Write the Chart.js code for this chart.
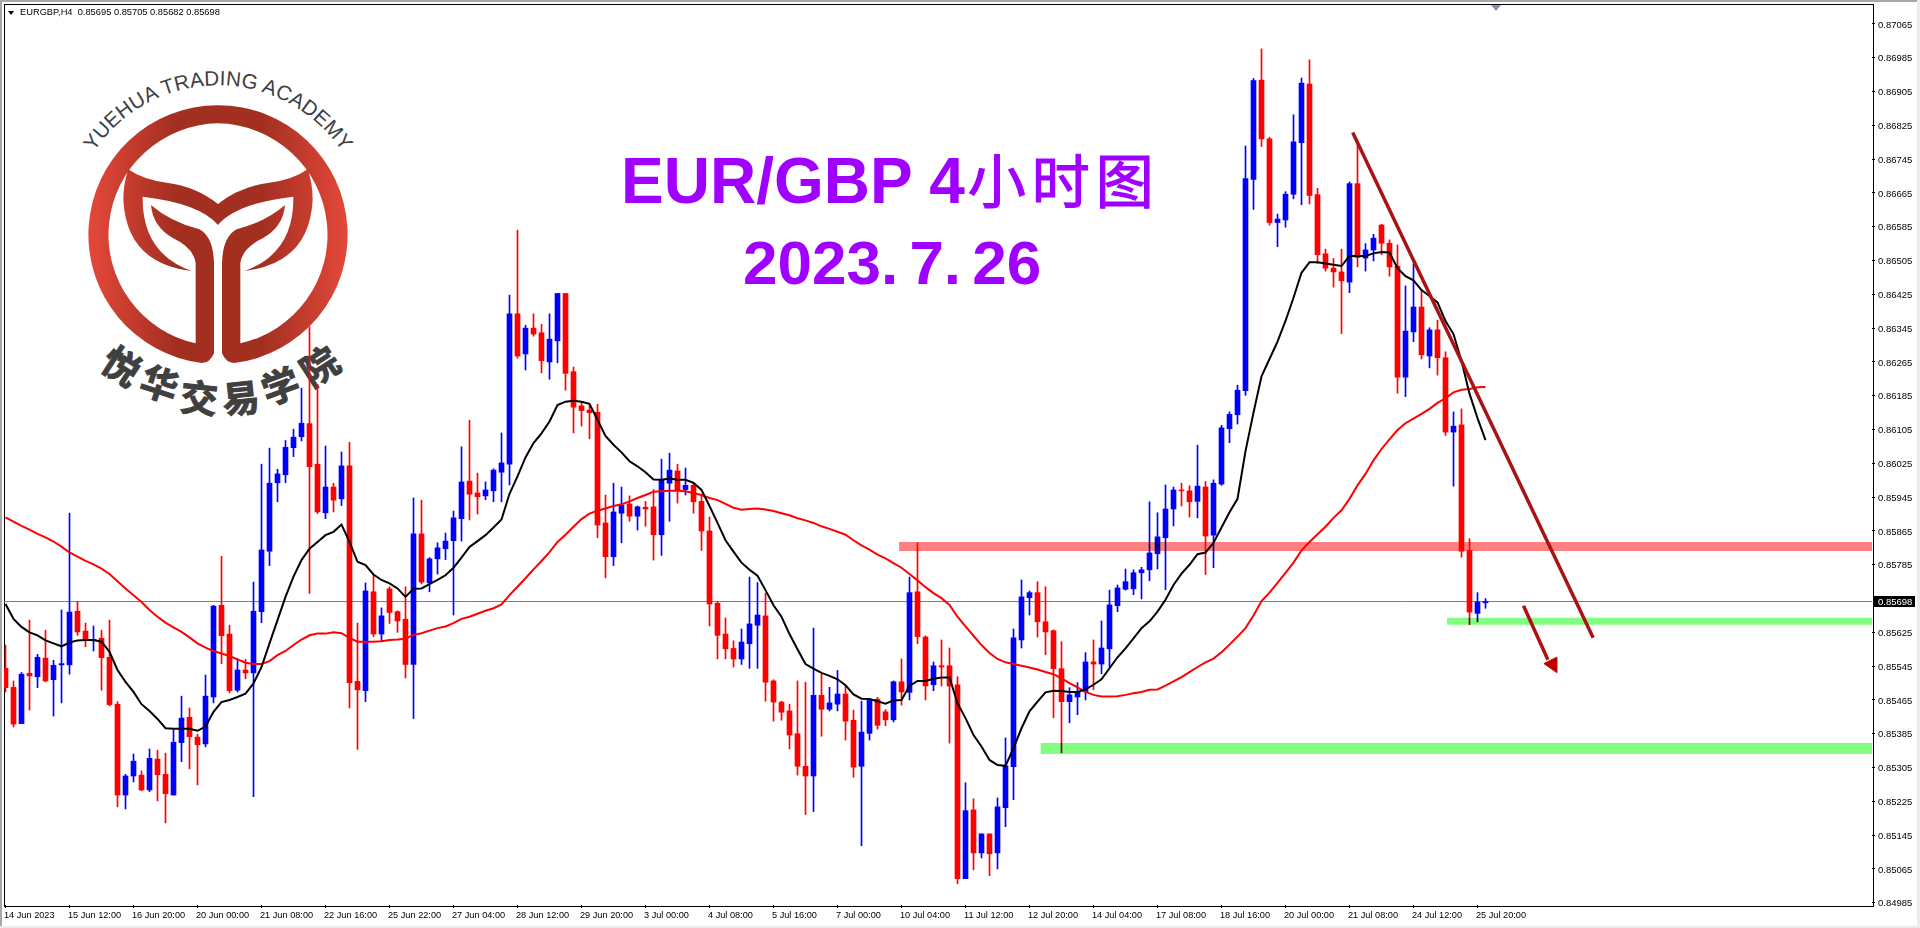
<!DOCTYPE html>
<html>
<head>
<meta charset="utf-8">
<title>EURGBP H4</title>
<script src="https://cdn.jsdelivr.net/npm/chart.js@4.4.4/dist/chart.umd.min.js"></script>
<style>
  html, body { margin: 0; padding: 0; background: #fff; overflow: hidden; }
  #wrap { position: relative; width: 1920px; height: 928px; overflow: hidden; font-family: "Liberation Sans", sans-serif; }
  #wrap > * { position: absolute; }
  canvas { left: 0; top: 0; z-index: 3; }
  .edge { z-index: 4; }
  #frame { left: 4px; top: 4px; width: 1868px; height: 901px; border: 1px solid #000; box-sizing: content-box; }
  #head { left: 20px; top: 6px; font-size: 9.3px; line-height: 12px; color: #000; white-space: pre; z-index: 4; }
  #drop { left: 8px; top: 11px; width: 0; height: 0; border-left: 3.5px solid transparent; border-right: 3.5px solid transparent; border-top: 4px solid #000; z-index: 4; }
  #shift { left: 1491px; top: 5px; width: 0; height: 0; border-left: 5px solid transparent; border-right: 5px solid transparent; border-top: 6px solid #8496a8; z-index: 4; }
  .title { color: #a000ff; font-weight: 700; white-space: pre; z-index: 2; }
  #t1 { left: 621px; top: 140px; font-size: 64px; line-height: 76px; }
  #t1 span { font-family: "Noto Sans CJK SC"; font-weight: 400; font-size: 58px; letter-spacing: 6px; margin-left: 3px; -webkit-text-stroke: 1.2px #a000ff; }
  #t2 { left: 743px; top: 225px; font-size: 62px; line-height: 76px; word-spacing: -6px; }
  #logo { left: 0; top: 0; z-index: 1; }
</style>
</head>
<body>
<div id="wrap">
  <div class="edge" style="left:0;top:0;width:1920px;height:2px;background:#a8a8a8"></div>
  <div class="edge" style="left:0;top:0;width:2px;height:928px;background:#a8a8a8"></div>
  <div class="edge" style="left:1917px;top:0;width:3px;height:928px;background:#ececec"></div>
  <div class="edge" style="left:0;top:926px;width:1920px;height:2px;background:#ececec"></div>
  <div id="frame"></div>
  <svg id="logo" width="400" height="440" viewBox="0 0 1200 1320">
    <defs>
      <linearGradient id="rg" gradientUnits="userSpaceOnUse" x1="266" y1="0" x2="1042" y2="0">
        <stop offset="0" stop-color="#e4483a"/>
        <stop offset="0.33" stop-color="#a32f21"/>
        <stop offset="0.67" stop-color="#a32f21"/>
        <stop offset="1" stop-color="#e4483a"/>
      </linearGradient>
      <path id="half" d="M654,316 A388,388 0 0 0 605,1089 Q630,1089 642,1060 L642,790 Q640,710 598,688 Q510,665 453,615 Q458,680 520,715 Q582,745 587,790 L587,1030 A334,334 0 0 1 654,370 Z"/>
      <path id="wing" d="M385,508 Q430,540 500,548 Q590,560 654,612 L654,675 Q600,610 428,590 Q425,760 575,813 Q380,790 370,600 Q370,550 385,508 Z"/>
      <path id="arc" d="M206,704 A448,448 0 0 1 1102,704"/>
    </defs>
    <g fill="url(#rg)">
      <use href="#half"/>
      <use href="#wing"/>
      <use href="#half" transform="matrix(-1 0 0 1 1308 0)"/>
      <use href="#wing" transform="matrix(-1 0 0 1 1308 0)"/>
    </g>
    <text font-family="Liberation Sans" font-size="62" fill="#404040">
      <textPath href="#arc" startOffset="50%" text-anchor="middle" textLength="880" lengthAdjust="spacing">YUEHUA TRADING ACADEMY</textPath>
    </text>
    <g font-family="Noto Sans CJK SC" font-weight="700" font-size="112" fill="#404040" stroke="#404040" stroke-width="3" text-anchor="middle">
      <text transform="translate(342,1134) rotate(33)">悦</text>
      <text transform="translate(466,1192) rotate(18)">华</text>
      <text transform="translate(593,1236) rotate(6)">交</text>
      <text transform="translate(727,1236) rotate(-6)">易</text>
      <text transform="translate(856,1198) rotate(-20)">学</text>
      <text transform="translate(982,1134) rotate(-33)">院</text>
    </g>
  </svg>
  <div class="title" id="t1">EUR/GBP 4<span>小时图</span></div>
  <div class="title" id="t2">2023. 7. 26</div>
  <div id="drop"></div>
  <div id="head">EURGBP,H4  0.85695 0.85705 0.85682 0.85698</div>
  <div id="shift"></div>
  <canvas id="c" width="1920" height="928" style="width:1920px;height:928px"></canvas>
</div>
<script>
const opens = [
  0.85540,0.85495,0.85409,0.85528,0.85520,0.85564,0.85513,0.85548,0.85548,0.85675,
  0.85628,0.85605,0.85611,0.85566,0.85455,0.85240,0.85285,0.85287,0.85252,0.85325,
  0.85289,0.85240,0.85364,0.85424,0.85377,0.85361,0.85472,0.85689,0.85621,0.85488,
  0.85536,0.85529,0.85674,0.85817,0.85979,0.85998,0.86062,0.86088,0.86119,0.86023,
  0.85908,0.85969,0.85941,0.86019,0.85509,0.85487,0.85721,0.85621,0.85728,0.85674,
  0.85656,0.85549,0.85858,0.85742,0.85799,0.85823,0.85842,0.85894,0.85983,0.85955,
  0.85948,0.85960,0.86004,0.86023,0.86379,0.86284,0.86345,0.86334,0.86265,0.86315,
  0.86427,0.86242,0.86161,0.86151,0.86146,0.85884,0.85804,0.85907,0.85929,0.85900,
  0.85921,0.85922,0.85856,0.85978,0.86007,0.85963,0.85973,0.85935,0.85865,0.85694,
  0.85621,0.85587,0.85562,0.85598,0.85642,0.85664,0.85510,0.85460,0.85439,0.85385,
  0.85308,0.85285,0.85476,0.85443,0.85455,0.85479,0.85417,0.85308,0.85386,0.85467,
  0.85437,0.85418,0.85508,0.85483,0.85721,0.85614,0.85501,0.85546,0.85546,0.85501,
  0.85042,0.85205,0.85103,0.85148,0.85103,0.85210,0.85307,0.85607,0.85707,0.85719,
  0.85650,0.85629,0.85539,0.85461,0.85472,0.85484,0.85555,0.85550,0.85586,0.85688,
  0.85727,0.85728,0.85766,0.85773,0.85811,0.85849,0.85917,0.85962,0.85960,0.85935,
  0.85969,0.85855,0.85976,0.86107,0.86140,0.86197,0.86697,0.86932,0.86793,0.86595,
  0.86601,0.86662,0.86784,0.86923,0.86661,0.86521,0.86487,0.86478,0.86454,0.86687,
  0.86511,0.86530,0.86589,0.86546,0.86492,0.86229,0.86336,0.86395,0.86279,0.86341,
  0.86275,0.86099,0.86116,0.85819,0.85670,0.85695
];
const highs = [
  0.85595,0.85510,0.85530,0.85654,0.85573,0.85630,0.85559,0.85678,0.85907,0.85698,
  0.85647,0.85640,0.85630,0.85654,0.85461,0.85289,0.85337,0.85297,0.85349,0.85346,
  0.85339,0.85394,0.85474,0.85446,0.85384,0.85524,0.85689,0.85805,0.85642,0.85563,
  0.85561,0.85744,0.86023,0.86061,0.86011,0.86079,0.86106,0.86203,0.86348,0.86212,
  0.86066,0.85978,0.86052,0.86075,0.85647,0.85742,0.85762,0.85683,0.85733,0.85676,
  0.85733,0.85943,0.85938,0.85802,0.85837,0.85860,0.85912,0.86064,0.86127,0.86002,
  0.85981,0.86012,0.86097,0.86423,0.86577,0.86352,0.86379,0.86354,0.86379,0.86427,
  0.86427,0.86253,0.86169,0.86165,0.86165,0.85950,0.85978,0.85969,0.85948,0.85924,
  0.85935,0.85963,0.86035,0.86049,0.86023,0.86014,0.85979,0.85952,0.85898,0.85698,
  0.85659,0.85605,0.85633,0.85756,0.85743,0.85718,0.85513,0.85462,0.85455,0.85510,
  0.85507,0.85635,0.85526,0.85495,0.85535,0.85499,0.85441,0.85462,0.85467,0.85471,
  0.85442,0.85510,0.85562,0.85756,0.85837,0.85617,0.85555,0.85607,0.85588,0.85520,
  0.85269,0.85231,0.85148,0.85148,0.85233,0.85375,0.85633,0.85749,0.85723,0.85745,
  0.85733,0.85631,0.85603,0.85494,0.85506,0.85577,0.85607,0.85652,0.85725,0.85737,
  0.85775,0.85773,0.85779,0.85934,0.85908,0.85974,0.85969,0.85978,0.85972,0.86068,
  0.85982,0.85986,0.86115,0.86147,0.86210,0.86776,0.86936,0.87006,0.86797,0.86615,
  0.86668,0.86850,0.86937,0.86980,0.86676,0.86532,0.86510,0.86532,0.86691,0.86784,
  0.86545,0.86567,0.86591,0.86554,0.86542,0.86445,0.86498,0.86435,0.86346,0.86364,
  0.86289,0.86147,0.86154,0.85847,0.85719,0.85705
];
const lows = [
  0.85484,0.85401,0.85409,0.85441,0.85494,0.85508,0.85427,0.85458,0.85526,0.85618,
  0.85591,0.85581,0.85488,0.85451,0.85212,0.85207,0.85271,0.85250,0.85248,0.85226,
  0.85174,0.85240,0.85319,0.85302,0.85264,0.85354,0.85458,0.85551,0.85482,0.85484,
  0.85515,0.85236,0.85648,0.85783,0.85934,0.85979,0.86041,0.86078,0.85717,0.85906,
  0.85894,0.85910,0.85925,0.85446,0.85348,0.85461,0.85615,0.85605,0.85646,0.85625,
  0.85517,0.85421,0.85740,0.85721,0.85763,0.85797,0.85666,0.85841,0.85891,0.85905,
  0.85939,0.85934,0.85934,0.85974,0.86274,0.86246,0.86326,0.86239,0.86224,0.86263,
  0.86198,0.86097,0.86113,0.86083,0.85849,0.85754,0.85783,0.85837,0.85888,0.85867,
  0.85876,0.85796,0.85807,0.85888,0.85931,0.85950,0.85907,0.85819,0.85640,0.85562,
  0.85562,0.85543,0.85549,0.85540,0.85540,0.85462,0.85415,0.85417,0.85349,0.85287,
  0.85194,0.85201,0.85379,0.85439,0.85439,0.85370,0.85282,0.85120,0.85370,0.85396,
  0.85404,0.85413,0.85453,0.85465,0.85598,0.85465,0.85487,0.85498,0.85363,0.85030,
  0.85042,0.85063,0.85091,0.85049,0.85065,0.85165,0.85229,0.85588,0.85666,0.85614,
  0.85572,0.85423,0.85340,0.85411,0.85430,0.85465,0.85489,0.85527,0.85543,0.85674,
  0.85725,0.85714,0.85704,0.85747,0.85775,0.85726,0.85877,0.85924,0.85898,0.85896,
  0.85762,0.85778,0.85973,0.86074,0.86118,0.86186,0.86626,0.86775,0.86589,0.86538,
  0.86584,0.86651,0.86637,0.86639,0.86498,0.86480,0.86442,0.86332,0.86429,0.86490,
  0.86480,0.86504,0.86519,0.86468,0.86191,0.86183,0.86313,0.86272,0.86251,0.86234,
  0.86091,0.85971,0.85803,0.85643,0.85650,0.85682
];
const closes = [
  0.85494,0.85408,0.85526,0.85522,0.85566,0.85510,0.85547,0.85551,0.85673,0.85626,
  0.85607,0.85608,0.85565,0.85454,0.85240,0.85285,0.85320,0.85252,0.85327,0.85288,
  0.85243,0.85365,0.85422,0.85378,0.85359,0.85474,0.85687,0.85617,0.85487,0.85536,
  0.85529,0.85675,0.85820,0.85978,0.86000,0.86063,0.86087,0.86120,0.86017,0.85910,
  0.85969,0.85938,0.86019,0.85506,0.85489,0.85723,0.85621,0.85664,0.85672,0.85652,
  0.85549,0.85858,0.85744,0.85799,0.85825,0.85841,0.85896,0.85981,0.85952,0.85946,
  0.85962,0.86009,0.86026,0.86379,0.86279,0.86345,0.86331,0.86268,0.86319,0.86427,
  0.86238,0.86158,0.86150,0.86145,0.85879,0.85804,0.85910,0.85926,0.85900,0.85922,
  0.85917,0.85856,0.85985,0.86009,0.85962,0.85973,0.85934,0.85865,0.85692,0.85618,
  0.85586,0.85562,0.85602,0.85645,0.85666,0.85507,0.85460,0.85436,0.85382,0.85308,
  0.85285,0.85476,0.85443,0.85458,0.85479,0.85415,0.85306,0.85389,0.85464,0.85405,
  0.85418,0.85508,0.85484,0.85719,0.85615,0.85498,0.85546,0.85543,0.85498,0.85042,
  0.85203,0.85103,0.85148,0.85101,0.85212,0.85309,0.85612,0.85709,0.85719,0.85650,
  0.85626,0.85539,0.85461,0.85477,0.85484,0.85555,0.85550,0.85588,0.85690,0.85730,
  0.85745,0.85766,0.85773,0.85813,0.85851,0.85917,0.85962,0.85960,0.85934,0.85971,
  0.85853,0.85978,0.86109,0.86141,0.86198,0.86699,0.86931,0.86793,0.86595,0.86603,
  0.86662,0.86786,0.86925,0.86659,0.86519,0.86487,0.86478,0.86457,0.86687,0.86512,
  0.86530,0.86558,0.86546,0.86490,0.86229,0.86338,0.86395,0.86282,0.86341,0.86275,
  0.86099,0.86113,0.85817,0.85673,0.85697,0.85698
];
const fastMA = [
  0.85692,0.85657,0.85638,0.85625,0.85618,0.85606,0.85599,0.85592,0.85601,0.85606,
  0.85607,0.85607,0.85603,0.85579,0.85536,0.85508,0.85484,0.85455,0.85439,0.85420,
  0.85398,0.85397,0.85397,0.85397,0.85392,0.85402,0.85437,0.85460,0.85465,0.85472,
  0.85480,0.85504,0.85543,0.85599,0.85654,0.85709,0.85757,0.85796,0.85823,0.85839,
  0.85855,0.85863,0.85880,0.85839,0.85792,0.85784,0.85762,0.85749,0.85741,0.85729,
  0.85709,0.85728,0.85729,0.85739,0.85749,0.85760,0.85778,0.85802,0.85827,0.85841,
  0.85855,0.85873,0.85892,0.85953,0.85994,0.86039,0.86073,0.86096,0.86124,0.86163,
  0.86171,0.86173,0.86171,0.86166,0.86128,0.86090,0.86069,0.86051,0.86030,0.86018,
  0.86004,0.85987,0.85986,0.85989,0.85986,0.85986,0.85979,0.85962,0.85924,0.85884,
  0.85843,0.85816,0.85790,0.85773,0.85759,0.85725,0.85689,0.85662,0.85621,0.85585,
  0.85550,0.85539,0.85529,0.85522,0.85514,0.85500,0.85478,0.85468,0.85467,0.85462,
  0.85456,0.85464,0.85465,0.85498,0.85510,0.85510,0.85515,0.85518,0.85518,0.85457,
  0.85422,0.85382,0.85355,0.85323,0.85311,0.85309,0.85351,0.85398,0.85438,0.85461,
  0.85483,0.85487,0.85486,0.85484,0.85484,0.85490,0.85501,0.85514,0.85540,0.85566,
  0.85587,0.85611,0.85635,0.85651,0.85674,0.85702,0.85737,0.85764,0.85785,0.85810,
  0.85814,0.85837,0.85873,0.85909,0.85941,0.86054,0.86145,0.86231,0.86272,0.86313,
  0.86362,0.86417,0.86476,0.86501,0.86501,0.86498,0.86495,0.86492,0.86516,0.86516,
  0.86516,0.86522,0.86525,0.86524,0.86487,0.86468,0.86458,0.86435,0.86421,0.86406,
  0.86362,0.86331,0.86267,0.86190,0.86132,0.86080
];
const slowMA = [
  0.85897,0.85887,0.85877,0.85868,0.85858,0.85850,0.85840,0.85828,0.85814,0.85804,
  0.85794,0.85786,0.85776,0.85763,0.85746,0.85729,0.85713,0.85697,0.85678,0.85662,
  0.85648,0.85637,0.85626,0.85613,0.85599,0.85589,0.85581,0.85575,0.85569,0.85561,
  0.85553,0.85550,0.85550,0.85557,0.85571,0.85581,0.85595,0.85608,0.85618,0.85622,
  0.85622,0.85625,0.85623,0.85612,0.85603,0.85603,0.85603,0.85604,0.85607,0.85608,
  0.85610,0.85619,0.85623,0.85629,0.85635,0.85639,0.85647,0.85657,0.85662,0.85669,
  0.85676,0.85682,0.85691,0.85713,0.85733,0.85753,0.85774,0.85794,0.85815,0.85839,
  0.85856,0.85875,0.85893,0.85906,0.85913,0.85918,0.85924,0.85928,0.85935,0.85943,
  0.85950,0.85958,0.85959,0.85960,0.85960,0.85959,0.85955,0.85950,0.85943,0.85938,
  0.85929,0.85920,0.85915,0.85917,0.85918,0.85916,0.85912,0.85907,0.85902,0.85895,
  0.85890,0.85884,0.85876,0.85870,0.85863,0.85856,0.85843,0.85831,0.85821,0.85809,
  0.85800,0.85789,0.85778,0.85763,0.85748,0.85732,0.85718,0.85706,0.85690,0.85662,
  0.85639,0.85617,0.85595,0.85576,0.85562,0.85554,0.85550,0.85546,0.85542,0.85537,
  0.85531,0.85526,0.85516,0.85505,0.85495,0.85484,0.85477,0.85473,0.85473,0.85474,
  0.85477,0.85481,0.85484,0.85489,0.85490,0.85499,0.85509,0.85519,0.85531,0.85543,
  0.85554,0.85563,0.85578,0.85596,0.85615,0.85635,0.85665,0.85699,0.85719,0.85742,
  0.85766,0.85790,0.85819,0.85839,0.85857,0.85875,0.85896,0.85914,0.85941,0.85973,
  0.86000,0.86032,0.86059,0.86082,0.86104,0.86120,0.86131,0.86142,0.86154,0.86168,
  0.86179,0.86193,0.86199,0.86201,0.86205,0.86206
];
const yTicks = [
  0.87065,0.86985,0.86905,0.86825,0.86745,0.86665,0.86585,0.86505,0.86425,0.86345,
  0.86265,0.86185,0.86105,0.86025,0.85945,0.85865,0.85785,0.85625,0.85545,0.85465,
  0.85385,0.85305,0.85225,0.85145,0.85065,0.84985
];
const xTickIndex = [0,8,16,24,32,40,48,56,64,72,80,88,96,104,112,120,128,136,144,152,160,168,176,184];
const xTickLabels = [
  '14 Jun 2023','15 Jun 12:00','16 Jun 20:00','20 Jun 00:00','21 Jun 08:00','22 Jun 16:00',
  '25 Jun 22:00','27 Jun 04:00','28 Jun 12:00','29 Jun 20:00','3 Jul 00:00','4 Jul 08:00',
  '5 Jul 16:00','7 Jul 00:00','10 Jul 04:00','11 Jul 12:00','12 Jul 20:00','14 Jul 04:00',
  '17 Jul 08:00','18 Jul 16:00','20 Jul 00:00','21 Jul 08:00','24 Jul 12:00','25 Jul 20:00'
];
const lastPrice = 0.85698;

// hand drawn levels and lines, [candle index, price]
const resistZone = [[111.7, 0.85828], [234, 0.85828]];
const supportNear = [[180.2, 0.85651], [234, 0.85651]];
const supportFar = [[129.4, 0.85350], [234, 0.85350]];
const trendLine = [[168.4, 0.86808], [198.46, 0.85612]];
const arrowShaft = [[189.75, 0.85688], [192.8, 0.85560]];
const arrowHead = [[192.3, 0.85551], [193.9, 0.85566], [193.9, 0.85530], [192.3, 0.85551]];

const BLUE = '#0000ff';
const RED = '#ff0000';

const toXY = rows => rows.map(r => ({ x: r[0], y: r[1] }));
const series = vals => vals.map((y, i) => ({ x: i, y }));
const candleColor = opens.map((o, i) => (closes[i] >= o ? BLUE : RED));

function overlay(rows, color, width, order, extra) {
  return { type: 'line', data: toXY(rows), borderColor: color, borderWidth: width, pointRadius: 0, tension: 0, fill: false, order, ...extra };
}

// the zones tint whatever is under them instead of covering it
const multiplyPlugin = {
  id: 'multiply',
  beforeDatasetDraw(chart, args) {
    if (chart.data.datasets[args.index].multiply) {
      chart.ctx.save();
      chart.ctx.globalCompositeOperation = 'multiply';
    }
  },
  afterDatasetDraw(chart, args) {
    if (chart.data.datasets[args.index].multiply) chart.ctx.restore();
  },
};

const priceTagPlugin = {
  id: 'priceTag',
  afterDraw(chart) {
    const { ctx, chartArea } = chart;
    const y = Math.floor(chart.scales.y.getPixelForValue(lastPrice));
    ctx.save();
    ctx.fillStyle = '#000';
    ctx.fillRect(chartArea.right + 2, y - 5, 41, 11);
    ctx.fillStyle = '#fff';
    ctx.font = '9.5px "Liberation Sans"';
    ctx.textBaseline = 'middle';
    ctx.fillText(lastPrice.toFixed(5), chartArea.right + 6, y + 1);
    ctx.restore();
  },
};

new Chart(document.getElementById('c'), {
  type: 'bar',
  data: {
    datasets: [
      overlay([[-1, lastPrice], [234, lastPrice]], '#708090', 1, 10),
      { type: 'bar', data: lows.map((l, i) => ({ x: i, y: [l, highs[i]] })), backgroundColor: candleColor, barThickness: 1, grouped: false, order: 9 },
      { type: 'bar', data: opens.map((o, i) => ({ x: i, y: [o, closes[i]] })), backgroundColor: candleColor, barThickness: 5, grouped: false, order: 8 },
      { type: 'line', data: series(slowMA), borderColor: RED, borderWidth: 2, pointRadius: 0, tension: 0, fill: false, order: 7 },
      { type: 'line', data: series(fastMA), borderColor: '#000', borderWidth: 2, pointRadius: 0, tension: 0, fill: false, order: 6 },
      overlay(resistZone, '#ff8080', 9, 5, { multiply: true }),
      overlay(supportNear, '#80ff80', 7, 5, { multiply: true }),
      overlay(supportFar, '#80ff80', 11, 5, { multiply: true }),
      overlay(trendLine, '#a81414', 3.5, 4),
      overlay(arrowShaft, '#b01010', 3.5, 3),
      overlay(arrowHead, '#c00000', 1, 3, { fill: 'shape', backgroundColor: '#c00000' }),
    ],
  },
  options: {
    responsive: false,
    animation: false,
    events: [],
    layout: { padding: { left: 4, top: 4 } },
    plugins: { legend: { display: false }, tooltip: { enabled: false } },
    scales: {
      x: {
        type: 'linear',
        position: 'bottom',
        offset: false,
        min: -0.1875,
        max: 233.3125,
        afterBuildTicks: s => { s.ticks = xTickIndex.map(value => ({ value })); },
        afterFit: s => { s.height = 23; s.paddingLeft = 0; s.paddingRight = 0; },
        border: { display: false },
        grid: { offset: false, drawOnChartArea: false, drawTicks: true, tickLength: 3, color: '#000' },
        ticks: {
          autoSkip: false,
          maxRotation: 0,
          minRotation: 0,
          align: 'start',
          labelOffset: -1.5,
          padding: 2,
          color: '#000',
          font: { family: 'Liberation Sans', size: 9.2 },
          callback: v => xTickLabels[xTickIndex.indexOf(v)],
        },
      },
      y: {
        type: 'linear',
        position: 'right',
        min: 0.849797,
        max: 0.871122,
        afterBuildTicks: s => { s.ticks = yTicks.map(value => ({ value })); },
        afterFit: s => { s.width = 48; s.paddingTop = 0; s.paddingBottom = 0; },
        border: { display: false },
        grid: { drawOnChartArea: false, drawTicks: true, tickLength: 3, color: '#000' },
        ticks: { autoSkip: false, padding: 3, labelOffset: 1, color: '#000', font: { family: 'Liberation Sans', size: 9.5 }, callback: v => v.toFixed(5) },
      },
    },
  },
  plugins: [multiplyPlugin, priceTagPlugin],
});
</script>
</body>
</html>
